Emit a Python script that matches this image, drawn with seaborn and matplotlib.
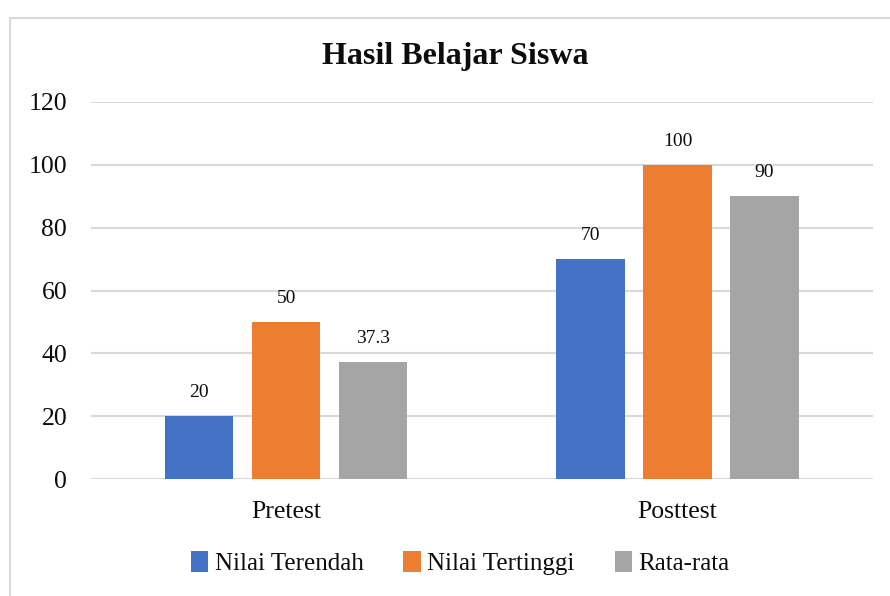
import numpy as np
import pandas as pd
import matplotlib
matplotlib.use("Agg")
import matplotlib.pyplot as plt
import seaborn as sns
from matplotlib.patches import Rectangle, Patch

# ---- data ----
categories = ["Pretest", "Posttest"]
series = ["Nilai Terendah", "Nilai Tertinggi", "Rata-rata"]
nilai_terendah = [20, 70]
nilai_tertinggi = [50, 100]
rata_rata = [37.3, 90]
colors = ["#4472C4", "#ED7D31", "#A5A5A5"]

df = pd.DataFrame({
    "kategori": categories * 3,
    "seri": [s for s in series for _ in categories],
    "nilai": nilai_terendah + nilai_tertinggi + rata_rata,
})

sns.set_style("white")
plt.rcParams["font.family"] = ["Liberation Serif", "DejaVu Serif"]
plt.rcParams["text.color"] = "#0d0d0d"
plt.rcParams["xtick.color"] = "#0d0d0d"
plt.rcParams["ytick.color"] = "#0d0d0d"

fig = plt.figure(figsize=(8.9, 5.96), dpi=100)
ax = fig.add_axes([0.102, 0.196, 0.879, 0.633])

sns.barplot(data=df, x="kategori", y="nilai", hue="seri", order=categories,
            hue_order=series, palette=colors, width=0.667, gap=0.216,
            saturation=1, linewidth=0, ax=ax, legend=False)

ax.set_ylim(0, 120)
ax.set_xlim(-0.5, 1.5)
ax.set_yticks(range(0, 121, 20))
ax.yaxis.grid(True, color="#d9d9d9", linewidth=1.5)
ax.set_axisbelow(True)
for sp in ax.spines.values():
    sp.set_visible(False)
ax.tick_params(axis="y", length=0, pad=17, labelsize=18.5)
ax.tick_params(axis="x", length=0, pad=16, labelsize=18.5)
ax.set_xlabel("")
ax.set_ylabel("")

# data labels
for cont in ax.containers:
    for bar in cont:
        h = bar.get_height()
        ax.annotate(f"{h:g}", (bar.get_x() + bar.get_width() / 2, h),
                    xytext=(0, 17), textcoords="offset points",
                    ha="center", va="center", fontsize=14)

fig.text(0.512, 0.905, "Hasil Belajar Siswa", ha="center", va="center",
         fontsize=23, fontweight="bold")

handles = [Patch(facecolor=c, edgecolor="none") for c in colors]
fig.legend(handles, series, loc="center", bbox_to_anchor=(0.517, 0.055),
           ncol=3, frameon=False, fontsize=18, handlelength=0.7,
           handleheight=0.9, handletextpad=0.25, columnspacing=1.6)

# chart border
fig.patches.append(Rectangle((10 / 890, -0.2), 1.2, 1.2 - 18 / 596,
                             transform=fig.transFigure, fill=False,
                             edgecolor="#d9d9d9", linewidth=1.5))

fig.savefig("out.png", dpi=100, facecolor="white")
